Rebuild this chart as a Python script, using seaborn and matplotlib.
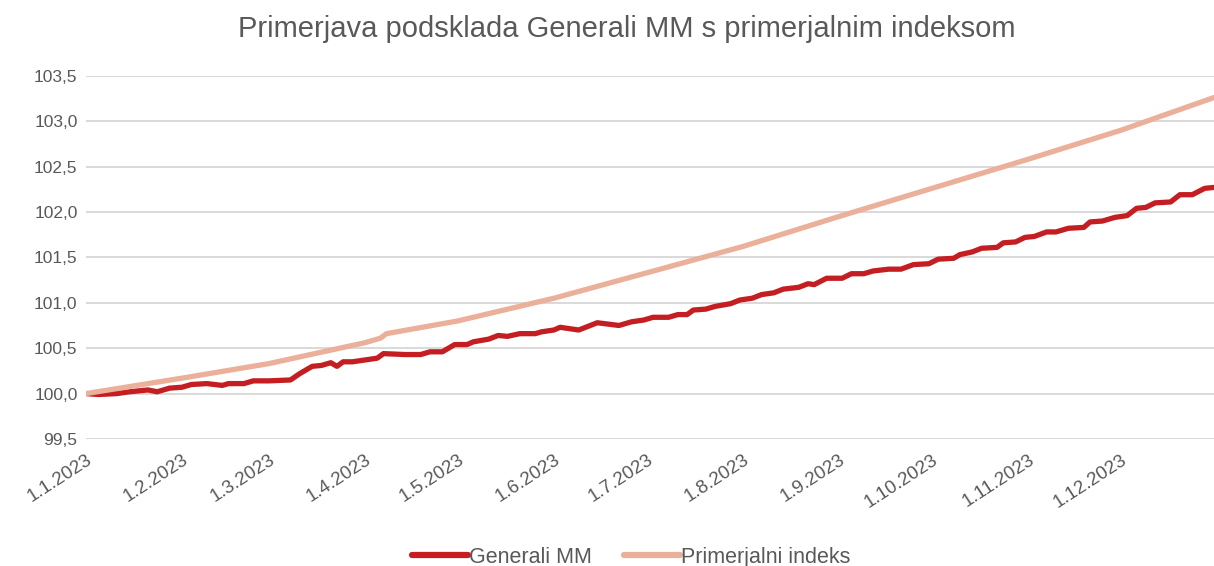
# -*- coding: utf-8 -*-

import matplotlib
matplotlib.use("Agg")
import matplotlib.pyplot as plt
import matplotlib.dates as mdates
from matplotlib.ticker import FuncFormatter
import numpy as np
import pandas as pd
import seaborn as sns

# Generali MM
mm_dates = ["2023-01-01", "2023-01-05", "2023-01-11", "2023-01-15", "2023-01-21", "2023-01-24",
            "2023-01-28", "2023-02-01", "2023-02-04", "2023-02-09", "2023-02-14", "2023-02-16",
            "2023-02-21", "2023-02-24", "2023-03-01", "2023-03-08", "2023-03-11", "2023-03-15",
            "2023-03-18", "2023-03-21", "2023-03-23", "2023-03-25", "2023-03-28", "2023-04-05",
            "2023-04-07", "2023-04-14", "2023-04-19", "2023-04-22", "2023-04-26", "2023-04-30",
            "2023-05-04", "2023-05-06", "2023-05-11", "2023-05-14", "2023-05-17", "2023-05-21",
            "2023-05-26", "2023-05-28", "2023-06-01", "2023-06-03", "2023-06-07", "2023-06-09",
            "2023-06-15", "2023-06-22", "2023-06-26", "2023-06-30", "2023-07-03", "2023-07-08",
            "2023-07-11", "2023-07-14", "2023-07-16", "2023-07-20", "2023-07-23", "2023-07-28",
            "2023-07-31", "2023-08-04", "2023-08-07", "2023-08-11", "2023-08-14", "2023-08-19",
            "2023-08-22", "2023-08-24", "2023-08-28", "2023-09-02", "2023-09-05", "2023-09-09",
            "2023-09-12", "2023-09-17", "2023-09-21", "2023-09-25", "2023-09-30", "2023-10-03",
            "2023-10-08", "2023-10-10", "2023-10-14", "2023-10-17", "2023-10-22", "2023-10-24",
            "2023-10-28", "2023-10-31", "2023-11-03", "2023-11-07", "2023-11-10", "2023-11-14",
            "2023-11-19", "2023-11-21", "2023-11-25", "2023-11-29", "2023-12-03", "2023-12-06",
            "2023-12-09", "2023-12-12", "2023-12-17", "2023-12-20", "2023-12-24", "2023-12-28",
            "2023-12-31"]
mm_values = [100.00, 99.99, 100.00, 100.02, 100.04, 100.02,
             100.06, 100.07, 100.10, 100.11, 100.09, 100.11,
             100.11, 100.14, 100.14, 100.15, 100.22, 100.30,
             100.31, 100.34, 100.30, 100.35, 100.35, 100.39,
             100.44, 100.43, 100.43, 100.46, 100.46, 100.54,
             100.54, 100.57, 100.60, 100.64, 100.63, 100.66,
             100.66, 100.68, 100.70, 100.73, 100.71, 100.70,
             100.78, 100.75, 100.79, 100.81, 100.84, 100.84,
             100.87, 100.87, 100.92, 100.93, 100.96, 100.99,
             101.03, 101.05, 101.09, 101.11, 101.15, 101.17,
             101.21, 101.20, 101.27, 101.27, 101.32, 101.32,
             101.35, 101.37, 101.37, 101.42, 101.43, 101.48,
             101.49, 101.53, 101.56, 101.60, 101.61, 101.66,
             101.67, 101.72, 101.73, 101.78, 101.78, 101.82,
             101.83, 101.89, 101.90, 101.94, 101.96, 102.04,
             102.05, 102.10, 102.11, 102.19, 102.19, 102.26,
             102.27]

# Primerjalni indeks
idx_dates = ["2023-01-01", "2023-02-01", "2023-03-01", "2023-04-01", "2023-04-06", "2023-04-08",
             "2023-05-01", "2023-06-01", "2023-07-01", "2023-08-01", "2023-09-01", "2023-10-01",
             "2023-11-01", "2023-12-01", "2023-12-31"]
idx_values = [100.00, 100.17, 100.33, 100.56, 100.61, 100.66,
              100.80, 101.05, 101.33, 101.62, 101.95, 102.26,
              102.58, 102.90, 103.26]

names = ["Generali MM", "Primerjalni indeks"]
colors = {"Generali MM": "#C41E22", "Primerjalni indeks": "#EBB09A"}
title = "Primerjava podsklada Generali MM s primerjalnim indeksom"

df = pd.concat([
    pd.DataFrame({"datum": pd.to_datetime(mm_dates), "vrednost": mm_values, "serija": names[0]}),
    pd.DataFrame({"datum": pd.to_datetime(idx_dates), "vrednost": idx_values, "serija": names[1]}),
])

sns.set_theme(style="white")
plt.rcParams['font.family'] = ['Liberation Sans', 'DejaVu Sans']

fig = plt.figure(figsize=(12.14, 5.66), dpi=100)
ax = fig.add_axes([0.0708, 0.2244, 0.9292, 0.6418])

sns.lineplot(data=df, x="datum", y="vrednost", hue="serija", hue_order=names,
             palette=colors, linewidth=3.8, errorbar=None, ax=ax,
             solid_capstyle="round")

ax.set_xlim(pd.Timestamp("2023-01-01"), pd.Timestamp("2023-12-31"))
ax.set_ylim(99.5, 103.5)
ax.set_yticks(np.arange(99.5, 103.51, 0.5))
ax.yaxis.set_major_formatter(FuncFormatter(lambda v, p: f"{v:.1f}".replace(".", ",")))
ax.xaxis.set_major_locator(mdates.MonthLocator(bymonthday=1))
ax.xaxis.set_major_formatter(FuncFormatter(
    lambda v, p: (lambda d: f"{d.day}.{d.month}.{d.year}")(mdates.num2date(v))))

ax.grid(axis="y", color="#d9d9d9", linewidth=1.4)
ax.grid(axis="x", visible=False)
for s in ax.spines.values():
    s.set_visible(False)
ax.set_axisbelow(True)
ax.tick_params(axis="y", length=0, pad=6, labelsize=12.5, labelcolor="#595959")
ax.tick_params(axis="x", length=0, pad=9, labelsize=13.5, labelcolor="#595959")
for lab in ax.get_xticklabels():
    lab.set_rotation(33)
    lab.set_rotation_mode("anchor")
    lab.set_ha("right")
    lab.set_va("top")
ax.set_xlabel("")
ax.set_ylabel("")

handles, labels = ax.get_legend_handles_labels()
ax.get_legend().remove()
leg = fig.legend(handles, labels, loc="lower center", bbox_to_anchor=(0.52, -0.037), ncol=2,
                 frameon=False, fontsize=15.5, handlelength=2.6, handletextpad=0.05,
                 columnspacing=1.5, labelcolor="#595959")
for h in leg.get_lines():
    h.set_linewidth(4.5)

fig.text(0.516, 0.949, title, ha="center", va="center", fontsize=21, color="#595959")

fig.savefig("out.png", dpi=100)
